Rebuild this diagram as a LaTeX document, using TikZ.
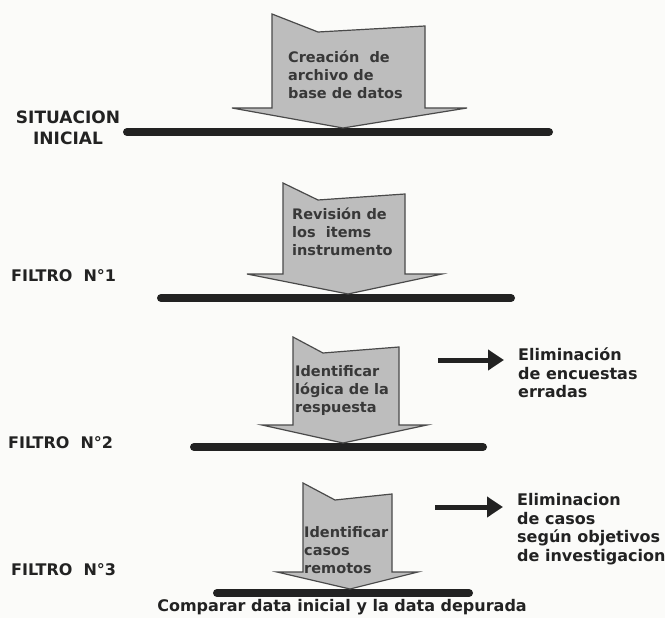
\documentclass[tikz,border=0pt]{standalone}
\usepackage{fontspec}
\setmainfont{DejaVu Sans}
\usepackage{tikz}
\usetikzlibrary{arrows.meta,positioning,calc}
\definecolor{FiltroGray}{HTML}{BDBDBD}
\definecolor{FiltroEdge}{HTML}{4A4A4A}
\definecolor{FiltroInk}{HTML}{222222}
\definecolor{FiltroPaper}{HTML}{FBFBF9}

\begin{document}
\begin{tikzpicture}[x=1pt,y=-1pt,
  block/.style={fill=FiltroGray, draw=FiltroEdge, line width=1.2pt, line join=miter},
  bar/.style={draw=FiltroInk, line width=8pt, line cap=round},
  push/.style={draw=FiltroInk, line width=5pt, -{Triangle[length=16pt,width=20pt]}, shorten >=14pt},
  boxtxt/.style={font=\fontsize{14.5}{18}\selectfont\bfseries, text=FiltroInk!90, align=left, anchor=west, inner sep=0pt},
  lbl/.style={font=\fontsize{16}{18.5}\selectfont\bfseries, text=FiltroInk, inner sep=0pt}]
  \fill[FiltroPaper] (0,0) rectangle (665,618);
  \useasboundingbox (0,0) rectangle (665,618);
  % block arrows pressing on the filter bars
  \foreach \n/\L/\R/\T/\nx/\ny/\Tr/\B/\hl/\hr/\tx/\ty/\bl/\br/\by/\px/\py/\txt in {%
      1/272/425/14/318/32/26/108/232/467/343/128/127/549/132/288/75/{Creación\ \ de\\archivo de\\base de datos},
      2/283/405/183/318/200/194/274/247/442/348/294/161/511/298/292/232/{Revisión de\\los\ \ items\\instrumento},
      3/293/399/337/323/353/347/425/262/427/343/443/194/483/447/295/390/{Identificar\\lógica de la\\respuesta},
      4/303/392/483/335/500/494/572/277/418/350/589/217/469/593/304/550/{Identificar\\casos\\remotos}}{
    \draw[bar] (\bl,\by) -- (\br,\by);
    \draw[block] (\L,\T) -- (\nx,\ny) -- (\R,\Tr) -- (\R,\B) -- (\hr,\B)
      -- (\tx,\ty) -- (\hl,\B) -- (\L,\B) -- cycle;
    \node[boxtxt] (paso\n) at (\px,\py) {\txt};
  }
  % stage labels
  \node[lbl, font=\fontsize{17}{21}\selectfont\bfseries, align=center] (inicial) at (68,128) {SITUACION\\INICIAL};
  \node[lbl, anchor=west] (filtro1) at (11,276) {FILTRO\ \ N°1};
  \node[lbl, anchor=west] (filtro2) at (8,443) {FILTRO\ \ N°2};
  \node[lbl, anchor=west] (filtro3) at (11,570) {FILTRO\ \ N°3};
  % eliminated cases
  \node[lbl, anchor=west, align=left] (elim1) at (518,373) {Eliminación\\de encuestas\\erradas};
  \node[lbl, anchor=west, align=left] (elim2) at (517,529) {Eliminacion\\de casos\\según objetivos\\de investigacion};
  \coordinate (s1) at (438,360);
  \coordinate (s2) at (435,507);
  \draw[push] (s1) -- (s1 -| elim1.west);
  \draw[push] (s2) -- (s2 -| elim2.west);
  \node[lbl] (final) at (342,607) {Comparar data inicial y la data depurada};
\end{tikzpicture}
\end{document}
